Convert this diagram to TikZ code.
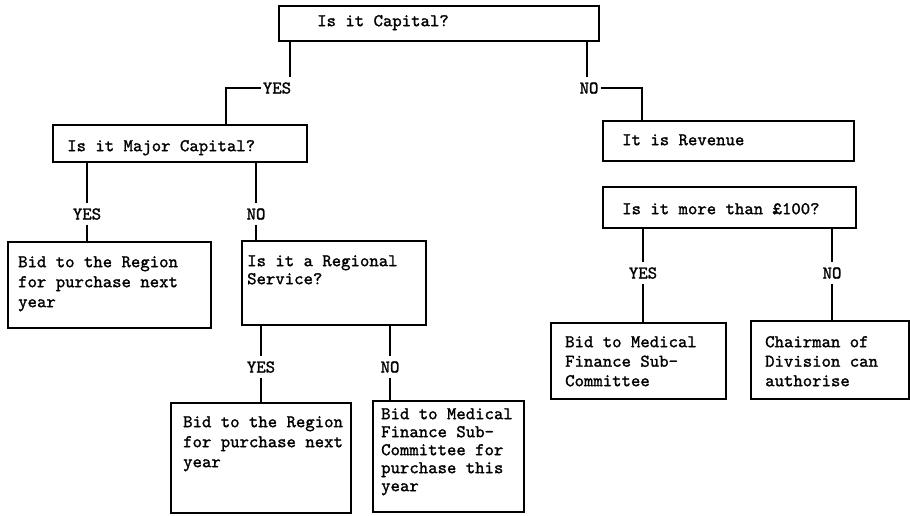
\documentclass[tikz,border=0pt]{standalone}
\usepackage{fontspec}
% typewriter face, slightly thickened
\newfontfamily\tw[FakeBold=1.4]{lmmono10-regular.otf}
% fixed height for the first row of a text block, so its baseline is known
\newcommand\toprow{\rule{0pt}{13pt}}
\begin{document}
\begin{tikzpicture}[x=1pt,y=-1pt,
  box/.style={draw, line width=2pt, anchor=north west, inner sep=0pt},
  txt/.style={anchor=north west, inner sep=0pt, align=left,
              font=\tw\fontsize{17.9}{#1}\selectfont},
  txt/.default=20,
  lbl/.style={font=\tw\fontsize{17.9}{18}\selectfont, text height=11pt,
              text depth=0pt, inner xsep=2pt, inner ysep=5pt},
  conn/.style={line width=2pt}]
\useasboundingbox (0,0) rectangle (910,515);

% ---- boxes ----
\node[box, minimum width=320pt, minimum height=35pt]  (cap)      at (278,5)   {};
\node[box, minimum width=254pt, minimum height=37pt]  (major)    at (52,124)  {};
\node[box, minimum width=251pt, minimum height=40pt]  (rev)      at (602,120) {};
\node[box, minimum width=253pt, minimum height=41pt]  (more)     at (602,186) {};
\node[box, minimum width=203pt, minimum height=86pt]  (bidL)     at (7,241)   {};
\node[box, minimum width=184pt, minimum height=84pt]  (regional) at (241,240) {};
\node[box, minimum width=180pt, minimum height=110pt] (bidC)     at (170,402) {};
\node[box, minimum width=151pt, minimum height=111pt] (medC)     at (372,400) {};
\node[box, minimum width=175pt, minimum height=76pt]  (medR)     at (550,322) {};
\node[box, minimum width=158pt, minimum height=78pt]  (chair)    at (750,320) {};

% ---- box texts ----
\node[txt] (capT)      at (317,13)  {\toprow Is it Capital?};
\node[txt] (majorT)    at (67,138)  {\toprow Is it Major Capital?};
\node[txt] (revT)      at (622,132) {\toprow It is Revenue};
\node[txt] (moreT)     at (622,201) {\toprow Is it more than £100?};
\node[txt=20] (bidLT)  at (18,254)  {\toprow Bid to the Region\\for purchase next\\year};
\node[txt=18] (regT)   at (247,253) {\toprow Is it a Regional\\Service?};
\node[txt=20] (bidCT)  at (183,414) {\toprow Bid to the Region\\for purchase next\\year};
\node[txt=18] (medCT)  at (381,406) {\toprow Bid to Medical\\Finance Sub-\\Committee for\\purchase this\\year};
\node[txt=19.5] (medRT) at (565,334) {\toprow Bid to Medical\\Finance Sub-\\Committee};
\node[txt=19.5] (chairT) at (765,334) {\toprow Chairman of\\Division can\\authorise};

% ---- branch labels ----
\node[lbl] (yes1) at (277,88)  {YES};
\node[lbl] (no1)  at (589,88)  {NO};
\node[lbl] (yes2) at (87,214)  {YES};
\node[lbl] (no2)  at (256,214) {NO};
\node[lbl] (yes3) at (261,367) {YES};
\node[lbl] (no3)  at (390,367) {NO};
\node[lbl] (yes4) at (643,273) {YES};
\node[lbl] (no4)  at (832,273) {NO};

% ---- connectors from the top question ----
\coordinate (capL) at (290,0);
\coordinate (capR) at (587,0);
\coordinate (kYes) at (226,88);
\coordinate (kNo)  at (642,88);
\draw[conn] (cap.south -| capL) -- (capL |- yes1.north);
\draw[conn] (yes1.west) -- (kYes) -- (kYes |- major.north);
\draw[conn] (cap.south -| capR) -- (capR |- no1.north);
\draw[conn] (no1.east) -- (kNo) -- (kNo |- rev.north);

% ---- vertical branches through their labels ----
\draw[conn] (major.south -| yes2) -- (yes2.north);
\draw[conn] (yes2.south) -- (yes2 |- bidL.north);
\draw[conn] (major.south -| no2) -- (no2.north);
\draw[conn] (no2.south) -- (no2 |- regional.north);

\draw[conn] (regional.south -| yes3) -- (yes3.north);
\draw[conn] (yes3.south) -- (yes3 |- bidC.north);
\draw[conn] (regional.south -| no3) -- (no3.north);
\draw[conn] (no3.south) -- (no3 |- medC.north);

\draw[conn] (more.south -| yes4) -- (yes4.north);
\draw[conn] (yes4.south) -- (yes4 |- medR.north);
\draw[conn] (more.south -| no4) -- (no4.north);
\draw[conn] (no4.south) -- (no4 |- chair.north);
\end{tikzpicture}
\end{document}
